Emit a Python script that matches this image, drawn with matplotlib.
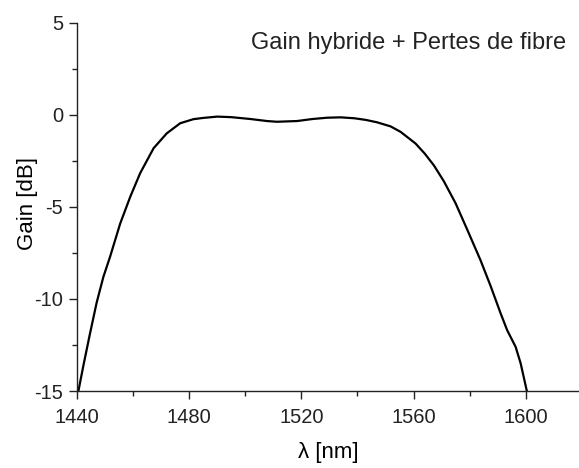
import matplotlib.pyplot as plt
from matplotlib.ticker import MultipleLocator

plt.rcParams['font.family'] = ['Liberation Sans', 'DejaVu Sans']
plt.rcParams['axes.unicode_minus'] = False

# Gain spectrum (hybrid amplifier + fibre losses)
wavelength = [1440.5, 1442.3, 1444.6, 1447.0, 1449.4, 1451.8, 1455.4, 1459.0,
              1462.5, 1467.3, 1472.0, 1476.8, 1481.5, 1485.1, 1490.0, 1495.0,
              1501.8, 1507.7, 1511.3, 1518.5, 1524.0, 1529.2, 1534.0, 1538.9,
              1543.0, 1547.0, 1551.8, 1555.4, 1560.7, 1564.0, 1567.3, 1570.8,
              1575.0, 1579.2, 1583.9, 1587.5, 1591.1, 1593.4, 1596.4, 1598.2,
              1600.4]
gain_db = [-15.0, -13.6, -11.9, -10.2, -8.8, -7.7, -5.9, -4.44,
           -3.17, -1.81, -1.0, -0.45, -0.23, -0.16, -0.09, -0.12,
           -0.22, -0.33, -0.37, -0.33, -0.22, -0.15, -0.13, -0.18,
           -0.27, -0.40, -0.62, -0.92, -1.55, -2.1, -2.75, -3.6,
           -4.8, -6.25, -7.9, -9.3, -10.8, -11.7, -12.6, -13.5,
           -15.0]

fig = plt.figure(figsize=(5.79, 4.68), dpi=100)
ax = fig.add_axes([0.133, 0.1645, 0.867, 0.7865])

ax.plot(wavelength, gain_db, color='black', lw=1.6, solid_joinstyle='round')

ax.set_xlim(1440, 1619)
ax.set_ylim(-15, 5)
ax.xaxis.set_major_locator(MultipleLocator(40))
ax.xaxis.set_minor_locator(MultipleLocator(20))
ax.yaxis.set_major_locator(MultipleLocator(5))
ax.yaxis.set_minor_locator(MultipleLocator(2.5))

for side in ['top', 'right']:
    ax.spines[side].set_visible(False)
for side in ['left', 'bottom']:
    ax.spines[side].set_linewidth(1.0)
    ax.spines[side].set_color('#222222')

ax.tick_params(which='major', direction='out', length=6, width=1.0,
               labelsize=14.5, colors='#222222')
ax.tick_params(axis='x', which='major', pad=6)
ax.tick_params(axis='y', which='major', pad=4)
ax.tick_params(which='minor', direction='out', length=3.5, width=1.0,
               colors='#222222')

ax.set_xlabel('λ [nm]', fontsize=16, labelpad=11)
ax.set_ylabel('Gain [dB]', fontsize=16)
ax.yaxis.set_label_coords(-0.078, 0.51)

ax.text(0.974, 0.946, 'Gain hybride + Pertes de fibre', transform=ax.transAxes,
        ha='right', va='center', fontsize=17, color='#222222')

fig.savefig('out.png', dpi=100)
